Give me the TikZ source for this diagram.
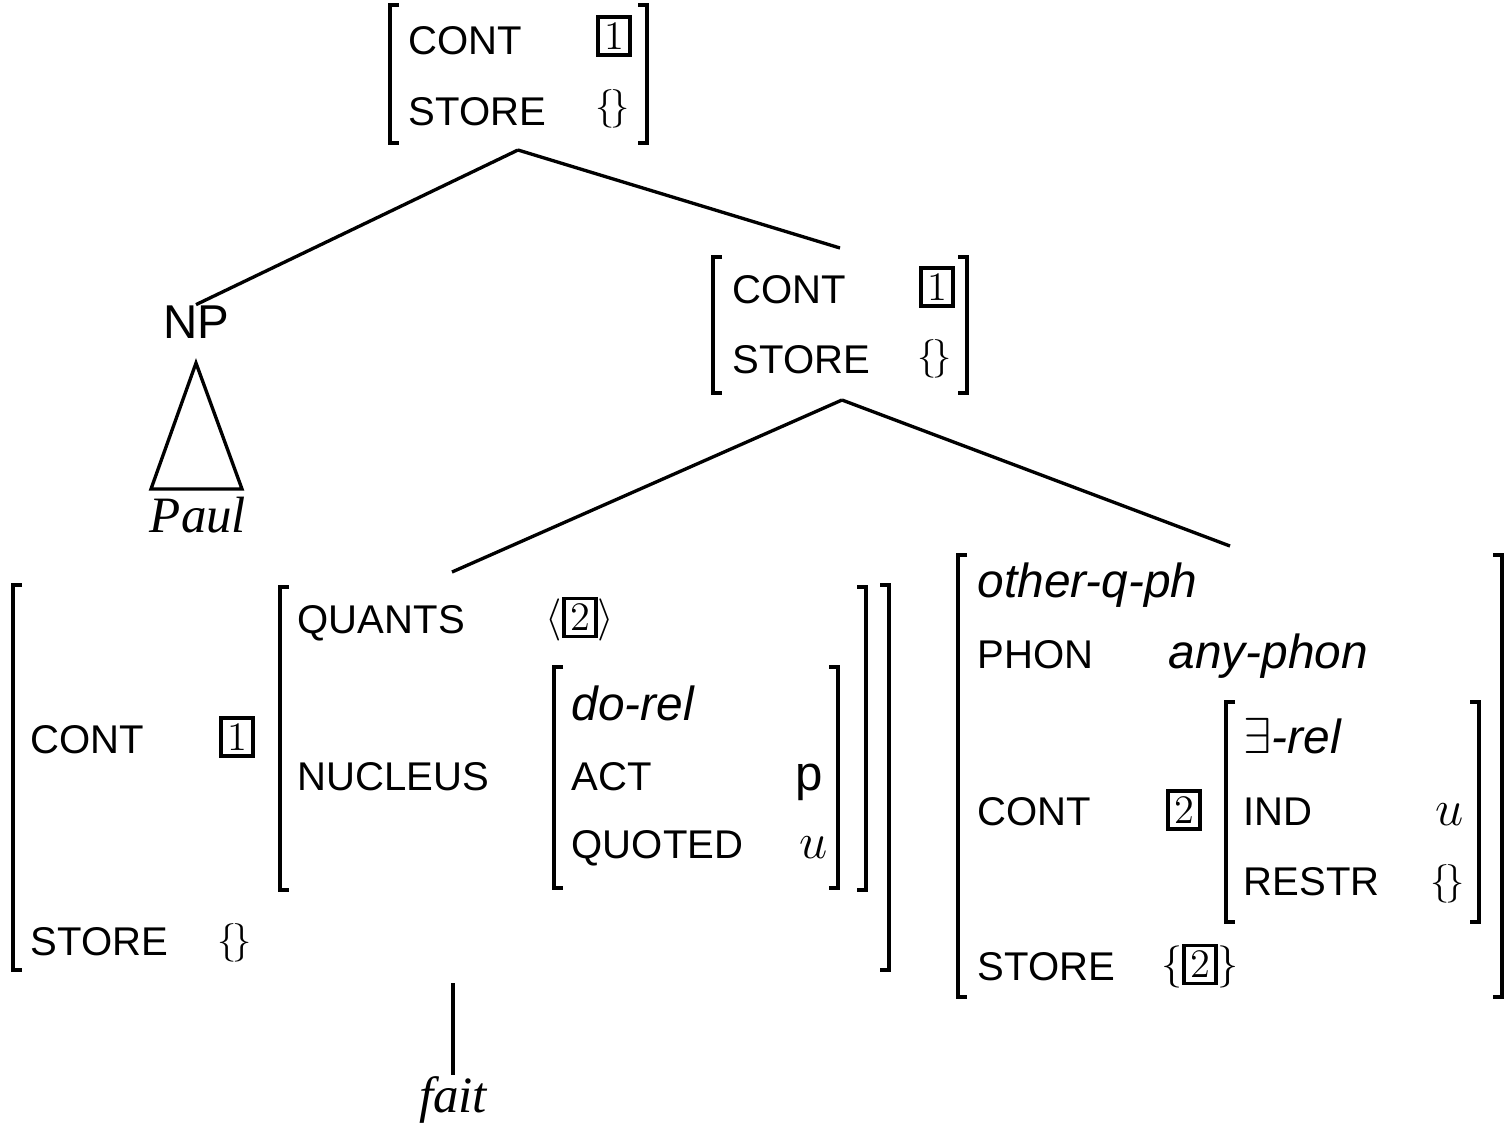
\documentclass[tikz,border=0pt]{standalone}
\usepackage{fontspec}
\newfontfamily\avmsf{Liberation Sans}
\newfontfamily\wordrm{Liberation Serif}
\newcommand{\Tag}[1]{{\setlength{\fboxsep}{1.1pt}\setlength{\fboxrule}{0.95pt}\fbox{\makebox[6pt]{#1}}}}
\newcommand{\EmptySet}{{\fontsize{10.5}{12}\selectfont$\{\mkern-2mu\}$}}
\newcommand{\AvmBrackets}[4]{%
  \draw[avm] ({#1+9},#2) -- (#1,#2) -- (#1,#4) -- ({#1+9},#4);
  \draw[avm] ({#3-9},#2) -- (#3,#2) -- (#3,#4) -- ({#3-9},#4);}

\begin{document}
\begin{tikzpicture}[x=0.01cm, y=-0.01cm,
    feat/.style={anchor=base west, inner sep=0pt, font=\avmsf\fontsize{11.4}{13}\selectfont},
    sort/.style={anchor=base west, inner sep=0pt, font=\avmsf\itshape\fontsize{13.6}{15}\selectfont},
    val/.style={inner sep=0pt, font=\fontsize{11.5}{13}\selectfont},
    atom/.style={anchor=base, inner sep=0pt, font=\fontsize{15}{17}\selectfont},
    word/.style={anchor=base, inner sep=0pt, font=\wordrm\itshape\fontsize{14.5}{17}\selectfont},
    avm/.style={line width=0.95pt},
    tree/.style={line width=0.95pt}]
    \useasboundingbox (0,0) rectangle (1511,1129);

    % mother
    \AvmBrackets{390}{5}{647}{143}
    \node[feat] (topCont) at (408,54) {CONT};
    \node[val] (topTag) at (614,36) {\Tag{1}};
    \node[feat] (topStore) at (408,125) {STORE};
    \node[val] (topSet) at (613,109) {\EmptySet};
    \coordinate (top) at (518,150);

    % subject
    \node[anchor=base, inner sep=0pt, font=\avmsf\fontsize{13.5}{15}\selectfont] (np) at (196,338) {NP};
    \draw[tree] (196,363) -- (242,489) -- (151,489) -- cycle;
    \node[word] (paul) at (198,532) {Paul};

    % VP
    \AvmBrackets{713}{257}{967}{393}
    \node[feat] (vpCont) at (732,303) {CONT};
    \node[val] (vpTag) at (937,287) {\Tag{1}};
    \node[feat] (vpStore) at (732,373) {STORE};
    \node[val] (vpSet) at (935,359) {\EmptySet};
    \coordinate (vpUp) at (840,248);
    \coordinate (vpDown) at (842,400);

    % head daughter
    \AvmBrackets{13}{585}{889}{970}
    \node[feat] (hdCont) at (30,753) {CONT};
    \node[val] (hdTag) at (237,737) {\Tag{1}};
    \node[feat] (hdStore) at (30,955) {STORE};
    \node[val] (hdSet) at (235,943) {\EmptySet};
    \AvmBrackets{280}{587}{866}{890}
    \node[feat] (quants) at (297,633) {QUANTS};
    \node[val] (quantsVal) at (580,619) {$\langle$\Tag{2}$\rangle$};
    \node[feat] (nucleus) at (297,790) {NUCLEUS};
    \AvmBrackets{554}{667}{838}{888}
    \node[sort] (doRel) at (571,720) {do-rel};
    \node[feat] (act) at (571,790) {ACT};
    \node[atom, font=\avmsf\fontsize{14}{16}\selectfont] (actVal) at (809,790) {p};
    \node[feat] (quoted) at (571,858) {QUOTED};
    \node[atom] (quotedVal) at (814,858) {$u$};
    \coordinate (hdUp) at (452,572);
    \coordinate (hdDown) at (453,983);
    \node[word] (fait) at (453,1112) {fait};

    % quantifier phrase
    \AvmBrackets{958}{555}{1502}{997}
    \node[sort] (qph) at (977,597) {other-q-ph};
    \node[feat] (phon) at (977,668) {PHON};
    \node[sort] (phonVal) at (1168,668) {any-phon};
    \node[feat] (qCont) at (977,825) {CONT};
    \node[val] (qTag) at (1184,810) {\Tag{2}};
    \AvmBrackets{1226}{702}{1479}{922}
    \node[sort] (exRel) at (1243,753) {$\exists$-rel};
    \node[feat] (ind) at (1243,825) {IND};
    \node[atom] (indVal) at (1450,825) {$u$};
    \node[feat] (restr) at (1243,895) {RESTR};
    \node[val] (restrVal) at (1448,884) {\EmptySet};
    \node[feat] (qStore) at (977,980) {STORE};
    \node[val] (qStoreVal) at (1200,966) {$\{$\Tag{2}$\}$};
    \coordinate (qUp) at (1230,546);

    \draw[tree] (top) -- (np.north);
    \draw[tree] (top) -- (vpUp);
    \draw[tree] (vpDown) -- (hdUp);
    \draw[tree] (vpDown) -- (qUp);
    \draw[tree] (hdDown) -- (fait.north);
\end{tikzpicture}
\end{document}
